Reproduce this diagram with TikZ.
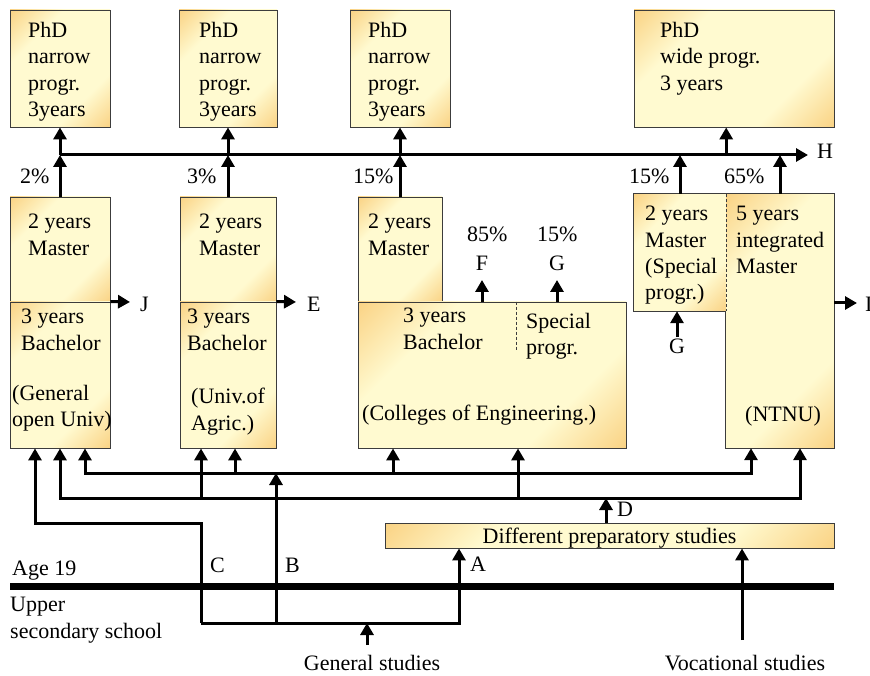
\documentclass[tikz,border=0pt]{standalone}
\usepackage{fontspec}
\setmainfont{Liberation Serif}
\usetikzlibrary{arrows.meta}
\definecolor{boxorange}{RGB}{248,196,104}
\definecolor{boxpale}{RGB}{255,250,208}
\definecolor{boxline}{RGB}{60,60,60}
\pgfdeclareverticalshading{boxshade}{100bp}{color(0bp)=(boxorange); color(8bp)=(boxorange);
  color(32bp)=(boxpale); color(68bp)=(boxpale); color(92bp)=(boxorange); color(100bp)=(boxorange)}

\begin{document}
\begin{tikzpicture}[x=1pt, y=-1pt,
    every node/.style={font=\fontsize{22}{26.4}\selectfont},
    box/.style={draw=boxline, line width=0.9pt, shading=boxshade, shading angle=45, inner sep=0pt},
    boxfill/.style={shading=boxshade, shading angle=45, inner sep=0pt},
    txt/.style={inner sep=0pt, align=left, anchor=north west},
    lbl/.style={inner sep=0pt, anchor=base west},
    arr/.style={-{Triangle[width=13pt,length=12pt]}, line width=3pt},
    biarr/.style={{Triangle[width=13pt,length=12pt]}-{Triangle[width=13pt,length=12pt]}, line width=3pt},
    divider/.style={boxline, line width=0.9pt, dash pattern=on 3pt off 2pt}
]
\useasboundingbox (0,0) rectangle (870,676);

% PhD programmes
\node[box, minimum width=100pt, minimum height=117pt] (phd1) at (60,68.5) {};
\node[box, minimum width=98pt, minimum height=117pt]  (phd2) at (228,68.5) {};
\node[box, minimum width=100pt, minimum height=117pt] (phd3) at (400,68.5) {};
\node[box, minimum width=200pt, minimum height=117pt] (phdw) at (734,68.5) {};
\node[txt] (tphd1) at (28,22)  {PhD\\narrow\\progr.\\3years};
\node[txt] (tphd2) at (199,22) {PhD\\narrow\\progr.\\3years};
\node[txt] (tphd3) at (368,22) {PhD\\narrow\\progr.\\3years};
\node[txt] (tphdw) at (660,22) {PhD\\wide progr.\\3 years};

% master and bachelor
\node[box, minimum width=100pt, minimum height=105pt] (mas1) at (60,249.5) {};
\node[box, minimum width=100pt, minimum height=146pt] (bac1) at (60,375) {};
\node[box, minimum width=96pt, minimum height=105pt]  (mas2) at (228,249.5) {};
\node[box, minimum width=96pt, minimum height=146pt]  (bac2) at (228,375) {};
\node[box, minimum width=84pt, minimum height=105pt]  (mas3) at (400,249.5) {};
\node[box, minimum width=268pt, minimum height=146pt] (bac3) at (492,375) {};
\node[boxfill, minimum width=92pt, minimum height=117pt]  (spm)  at (680,252.5) {};
\node[boxfill, minimum width=108pt, minimum height=254pt] (ntnu) at (780,321) {};
\draw[boxline, line width=0.9pt] (spm.north west) -- (ntnu.north east) -- (ntnu.south east)
    -- (ntnu.south west) -- (ntnu.west |- spm.south) -- (spm.south west) -- cycle;
\draw[divider] (spm.north east) -- (spm.south east);
\coordinate (spdash) at (516,351);
\draw[divider] (spdash |- bac3.north) -- (spdash);

\node[txt] (tmas1) at (28,214)  {2 years\\Master};
\node[txt] (tbac1) at (21,309)  {3 years\\Bachelor};
\node[txt] (tuni1) at (12,385)  {(General\\open Univ)};
\node[txt] (tmas2) at (199,214) {2 years\\Master};
\node[txt] (tbac2) at (187,309) {3 years\\Bachelor};
\node[txt] (tuni2) at (191,388) {(Univ.of\\Agric.)};
\node[txt] (tmas3) at (368,214) {2 years\\Master};
\node[txt] (tbac3) at (403,308) {3 years\\Bachelor};
\node[txt] (tspc3) at (526,313) {Special\\progr.};
\node[txt] (tuni3) at (362,405) {(Colleges of Engineering.)};
\node[txt] (tspm)  at (645,206) {2 years\\Master\\(Special\\progr.)};
\node[txt] (tntnu) at (736,206) {5 years\\integrated\\Master};
\node[txt] (tuni5) at (745,406) {(NTNU)};

% line H and PhD entry
\coordinate (hstart) at (60,155);
\coordinate (hend) at (808,155);
\draw[arr] (hstart) -- (hend);
\draw[arr] (phd1.south |- hstart) -- (phd1.south);
\draw[arr] (phd2.south |- hstart) -- (phd2.south);
\draw[arr] (phd3.south |- hstart) -- (phd3.south);
\draw[arr] (spm.north east |- hstart) -- (spm.north east |- phdw.south);
\draw[arr] (mas1.north) -- (mas1.north |- hstart);
\draw[arr] (mas2.north) -- (mas2.north |- hstart);
\draw[arr] (mas3.north) -- (mas3.north |- hstart);
\draw[arr] (spm.north) -- (spm.north |- hstart);
\draw[arr] (ntnu.north) -- (ntnu.north |- hstart);
\node[lbl] (p1) at (20,184)  {2\%};
\node[lbl] (p2) at (187,184) {3\%};
\node[lbl] (p3) at (353,184) {15\%};
\node[lbl] (p4) at (629,184) {15\%};
\node[lbl] (p5) at (724,184) {65\%};
\node[lbl] (lblH) at (817,159) {H};

% side exits
\coordinate (jtip) at (130,302);
\coordinate (etip) at (296,302);
\coordinate (itip) at (857,303);
\draw[arr] (bac1.north east) -- (jtip);
\draw[arr] (bac2.north east) -- (etip);
\draw[arr] (itip -| ntnu.east) -- (itip);
\node[lbl] (lblJ) at (140,312) {J};
\node[lbl] (lblE) at (307,312) {E};
\node[lbl] (lblI) at (865,312) {I};

\coordinate (ftip) at (482,280);
\coordinate (gtip) at (557,280);
\draw[arr] (ftip |- bac3.north) -- (ftip);
\draw[arr] (gtip |- bac3.north) -- (gtip);
\node[lbl, anchor=base] (lblF) at (482,271) {F};
\node[lbl, anchor=base] (lblG) at (557,271) {G};
\node[lbl] (p6) at (467,242) {85\%};
\node[lbl] (p7) at (537,242) {15\%};
\coordinate (gbot) at (677,337);
\draw[arr] (gbot) -- (gbot |- spm.south);
\node[lbl, anchor=base] (lblG2) at (677,353) {G};

% preparatory studies
\node[box, minimum width=449pt, minimum height=25pt, text depth=0pt] (prep) at (609.5,535.5) {Different preparatory studies};

% entry routes
\coordinate (r1a) at (85,473);
\coordinate (r1b) at (235,473);
\coordinate (r1c) at (393,473);
\coordinate (r1d) at (751,473);
\coordinate (r2a) at (60,498);
\coordinate (r2b) at (201,498);
\coordinate (r2c) at (518,498);
\coordinate (r2d) at (800,498);
\draw[biarr] (r1a |- bac1.south) -- (r1a) -- (r1d) -- (r1d |- ntnu.south);
\draw[arr] (r1b) -- (r1b |- bac2.south);
\draw[arr] (r1c) -- (r1c |- bac3.south);
\draw[biarr] (r2a |- bac1.south) -- (r2a) -- (r2d) -- (r2d |- ntnu.south);
\draw[arr] (r2b) -- (r2b |- bac2.south);
\draw[arr] (r2c) -- (r2c |- bac3.south);

\coordinate (cbot) at (201,623);
\coordinate (cbend) at (201,523);
\coordinate (cleft) at (35,523);
\coordinate (bbot) at (276,623);
\coordinate (abot) at (459,623);
\coordinate (gen) at (367,645);
\coordinate (dcol) at (606,498);
\coordinate (voc) at (742,640);
\draw[arr] (cbot) -- (cbend) -- (cleft) -- (cleft |- bac1.south);
\draw[arr] (bbot) -- (bbot |- r1a);
\draw[arr] (cbot) -- (abot) -- (abot |- prep.south);
\draw[arr] (gen) -- (gen |- cbot);
\draw[arr] (dcol |- prep.north) -- (dcol);
\draw[arr] (voc) -- (voc |- prep.south);
\node[lbl] (lblC) at (210,572) {C};
\node[lbl] (lblB) at (285,572) {B};
\node[lbl] (lblA) at (470,571) {A};
\node[lbl] (lblD) at (617,516) {D};

% age 19 line
\coordinate (agew) at (10,586);
\coordinate (agee) at (834,586);
\draw[line width=7pt] (agew) -- (agee);
\node[lbl] (age) at (12,575) {Age 19};
\node[txt] (upper) at (10,597) {Upper\\secondary school};
\node[lbl, anchor=base] (general) at (372,670) {General studies};
\node[lbl, anchor=base] (vocational) at (745,670) {Vocational studies};
\end{tikzpicture}
\end{document}
